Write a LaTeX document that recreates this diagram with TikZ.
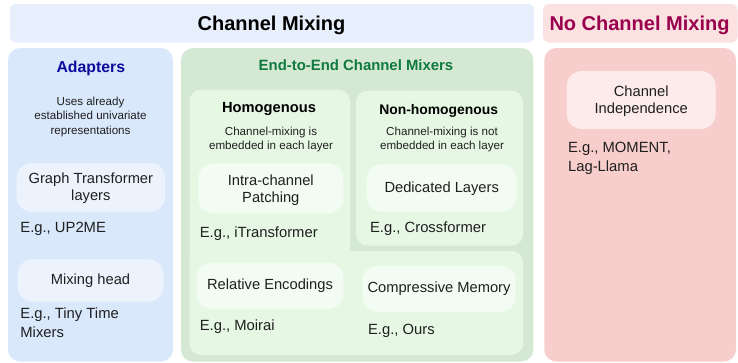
\documentclass[tikz,border=0pt]{standalone}
\usepackage{fontspec}
\setmainfont{Liberation Sans}
\definecolor{bannerblue}{HTML}{E8EFFC}
\definecolor{panelblue}{HTML}{DAE8FC}
\definecolor{boxblue}{HTML}{EDF3FD}
\definecolor{panelgreen}{HTML}{D5E8D4}
\definecolor{midgreen}{HTML}{E6F8E4}
\definecolor{boxgreen}{HTML}{F3FCF2}
\definecolor{panelred}{HTML}{F8CECC}
\definecolor{bannerred}{HTML}{FBE1E0}
\definecolor{boxred}{HTML}{FDEAEA}
\definecolor{titleblue}{HTML}{0B0B9C}
\definecolor{titlegreen}{HTML}{107A3E}
\definecolor{titlered}{HTML}{99004D}
\definecolor{txtc}{HTML}{1F1F1F}
\tikzset{
  shp/.style={inner sep=0pt, outer sep=0pt, draw=none},
  bigttl/.style={anchor=base, inner sep=0pt, font=\fontsize{20}{24}\selectfont\bfseries},
  eg/.style={anchor=base west, align=left, inner sep=0pt, font=\fontsize{14.8}{18.7}\selectfont, text=txtc},
  bt/.style={anchor=base, align=center, inner sep=0pt, font=\fontsize{14.7}{17.5}\selectfont, text=txtc},
  subt/.style={anchor=base, align=center, inner sep=0pt, font=\fontsize{11.6}{14.5}\selectfont, text=txtc},
}
\begin{document}
\begin{tikzpicture}[x=1pt,y=-1pt]
\useasboundingbox (0,0) rectangle (738,362);
% banners
\node[shp, fill=bannerblue, rounded corners=6pt, minimum width=524pt, minimum height=38.5pt] (bannerL) at (272,23.25) {};
\node[shp, fill=bannerred, rounded corners=6pt, minimum width=194.5pt, minimum height=38.5pt] (bannerR) at (640.25,23.25) {};
\node[bigttl, text=black] (tCM) at (271.5,30) {Channel Mixing};
\node[bigttl, text=titlered] (tNCM) at (639.5,30) {No Channel Mixing};
% panels
\node[shp, fill=panelblue, rounded corners=12pt, minimum width=165pt, minimum height=313.5pt] (pA) at (90.5,204.75) {};
\node[shp, fill=panelgreen, rounded corners=12pt, minimum width=352.3pt, minimum height=313.5pt] (pG) at (357.15,204.75) {};
\node[shp, fill=panelred, rounded corners=12pt, minimum width=191.7pt, minimum height=313.5pt] (pR) at (640.15,204.75) {};
% green sub panels
\node[shp, fill=midgreen, rounded corners=12pt, minimum width=160.5pt, minimum height=265.5pt] (hom) at (269.75,222.25) {};
\node[shp, fill=midgreen, rounded corners=12pt, minimum width=167.3pt, minimum height=155.2pt] (nonhom) at (439.65,168.1) {};
\node[shp, fill=midgreen, rounded corners=12pt, minimum width=333.8pt, minimum height=104pt] (bottom) at (356.4,303) {};
% titles
\node[anchor=base, inner sep=0pt, font=\fontsize{15.8}{19}\selectfont\bfseries, text=titleblue] (tA) at (90.8,72.3) {Adapters};
\node[anchor=base, inner sep=0pt, font=\fontsize{14.9}{18}\selectfont\bfseries, text=titlegreen] (tE) at (356,70.8) {End-to-End Channel Mixers};
\node[subt] (sA) at (90.5,134) {Uses already\\established univariate\\representations};
\node[anchor=base, inner sep=0pt, font=\fontsize{14.7}{18}\selectfont\bfseries, text=black] (tH) at (269,112.5) {Homogenous};
\node[subt] (sH) at (271,149.5) {Channel-mixing is\\embedded in each layer};
\node[anchor=base, inner sep=0pt, font=\fontsize{13.9}{17}\selectfont\bfseries, text=black] (tN) at (438.7,114) {Non-homogenous};
\node[subt] (sN) at (442,149.5) {Channel-mixing is not\\embedded in each layer};
% boxes
\node[shp, fill=boxblue, rounded corners=15pt, minimum width=148.3pt, minimum height=48.7pt] (gt) at (90.85,187.35) {};
\node[shp, fill=boxblue, rounded corners=15pt, minimum width=145.6pt, minimum height=42.4pt] (mh) at (90.5,280.5) {};
\node[shp, fill=boxgreen, rounded corners=15pt, minimum width=145pt, minimum height=50pt] (ip) at (270.8,188.3) {};
\node[shp, fill=boxgreen, rounded corners=15pt, minimum width=150pt, minimum height=47.4pt] (dl) at (441.7,188) {};
\node[shp, fill=boxgreen, rounded corners=15pt, minimum width=146.6pt, minimum height=46.3pt] (re) at (270,285.85) {};
\node[shp, fill=boxgreen, rounded corners=15pt, minimum width=153.4pt, minimum height=45.7pt] (cm) at (439,288.85) {};
\node[shp, fill=boxred, rounded corners=15pt, minimum width=149pt, minimum height=58pt] (ci) at (641.2,100) {};
% box texts
\node[bt] (gtT) at (90.85,200.8) {Graph Transformer\\layers};
\node[bt] (mhT) at (90.5,284.5) {Mixing head};
\node[bt] (ipT) at (270.8,202.5) {Intra-channel\\Patching};
\node[bt] (dlT) at (441.7,192) {Dedicated Layers};
\node[bt] (reT) at (270,289.5) {Relative Encodings};
\node[bt] (cmT) at (439,292.5) {Compressive Memory};
\node[bt] (ciT) at (641.2,113.5) {Channel\\Independence};
% examples
\node[eg] (eUP) at (20.2,232.3) {E.g., UP2ME};
\node[eg] (eTT) at (20.2,337.3) {E.g., Tiny Time\\Mixers};
\node[eg] (eIT) at (199.6,237.3) {E.g., iTransformer};
\node[eg] (eCF) at (369.9,232.3) {E.g., Crossformer};
\node[eg] (eMo) at (199.6,330.6) {E.g., Moirai};
\node[eg] (eOu) at (367.9,334) {E.g., Ours};
\node[eg] (eMM) at (567.9,171.6) {E.g., MOMENT,\\Lag-Llama};
\end{tikzpicture}
\end{document}
